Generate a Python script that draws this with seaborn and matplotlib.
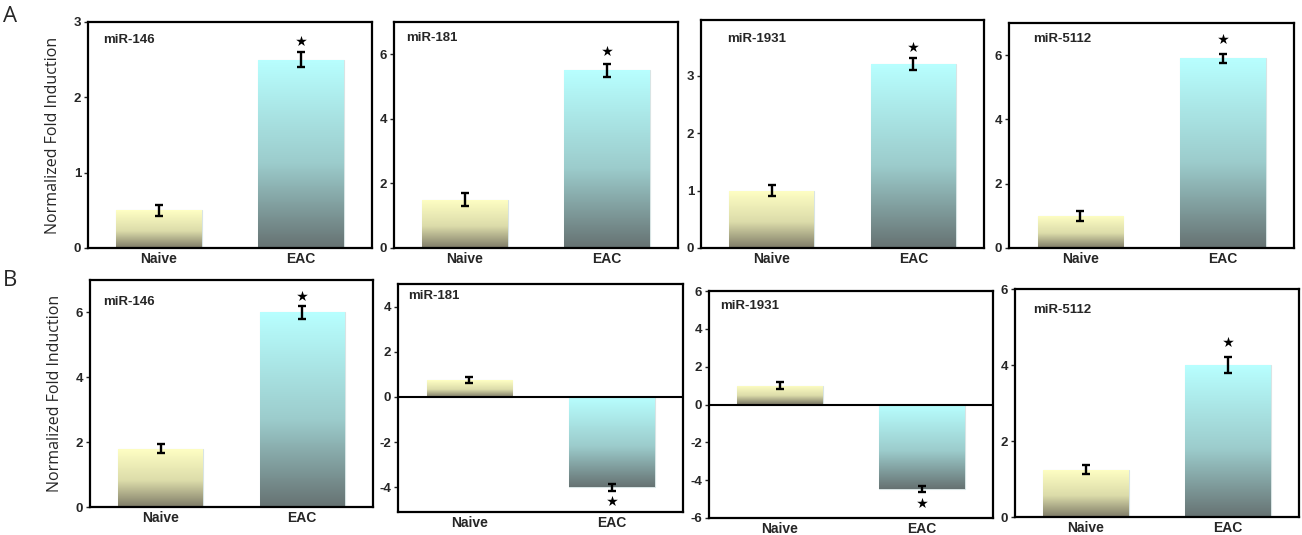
import numpy as np
import pandas as pd
import matplotlib
matplotlib.use('Agg')
import matplotlib.pyplot as plt
import seaborn as sns
from matplotlib.colors import LinearSegmentedColormap

groups = ['Naive', 'EAC']
mirs = ['miR-146', 'miR-181', 'miR-1931', 'miR-5112']

# panel A values
a_naive = [0.5, 1.5, 1.0, 1.0]
a_naive_err = [0.07, 0.2, 0.1, 0.15]
a_eac = [2.5, 5.5, 3.2, 5.9]
a_eac_err = [0.1, 0.2, 0.1, 0.15]
a_star = [2.75, 6.1, 3.5, 6.5]

# panel B values
b_naive = [1.8, 0.75, 1.0, 1.25]
b_naive_err = [0.15, 0.15, 0.2, 0.12]
b_eac = [6.0, -4.0, -4.45, 4.0]
b_eac_err = [0.2, 0.15, 0.15, 0.22]
b_star = [6.5, -4.6, -5.2, 4.6]

a_ylim = [(0, 3), (0, 7), (0, 3.97), (0, 7)]
a_ticks = [[0, 1, 2, 3], [0, 2, 4, 6], [0, 1, 2, 3], [0, 2, 4, 6]]
b_ylim = [(0, 7), (-5.1, 5), (-6, 6), (0, 6)]
b_ticks = [[0, 2, 4, 6], [-4, -2, 0, 2, 4], [-6, -4, -2, 0, 2, 4, 6], [0, 2, 4, 6]]

# axes boxes in pixels: left, right, top, bottom
W, H = 1302, 535
a_box = [(88, 372, 22, 248), (394, 678, 22, 248), (701, 984, 20, 248), (1009, 1294, 23, 248)]
b_box = [(90, 373, 280, 507), (398, 683, 284, 512), (709, 993, 291, 518), (1015, 1299, 289, 517)]
# title offset from the top-left corner (px)
a_title = [(15, 18), (12, 16), (26, 19), (24, 16)]
b_title = [(13, 22), (10, 12), (11, 15), (18, 21)]

sns.set_style('ticks')
plt.rcParams['font.family'] = ['Liberation Sans', 'DejaVu Sans']

naive_cmap = LinearSegmentedColormap.from_list(
    'naive', [(0, '#7f7c68'), (0.45, '#dcdcaa'), (1, '#ffffc4')])
eac_cmap = LinearSegmentedColormap.from_list(
    'eac', [(0, '#667272'), (0.45, '#9ccccc'), (1, '#b8ffff')])


def gradient_bars(ax, cmaps):
    grad = np.linspace(0, 1, 256).reshape(-1, 1)
    for patch, cm in zip(ax.patches, cmaps):
        x, y = patch.get_x(), patch.get_y()
        w, h = patch.get_width(), patch.get_height()
        y0, y1 = min(y, y + h), max(y, y + h)
        im = ax.imshow(grad, cmap=cm, origin='lower', aspect='auto',
                       extent=[x, x + w, y0, y1], zorder=1)
        im.set_clip_path(patch)
        patch.set_facecolor('none')
        patch.set_edgecolor('#d8e4e4')
        patch.set_linewidth(0.8)


fig = plt.figure(figsize=(W / 100, H / 100), dpi=100)


def panel(box, tpos, name, naive, naive_err, eac, eac_err, star, ylim, ticks, ylabel):
    l, r, t, b = box
    ax = fig.add_axes([l / W, (H - b) / H, (r - l) / W, (b - t) / H])
    df = pd.DataFrame({'group': groups, 'value': [naive, eac]})
    sns.barplot(data=df, x='group', y='value', ax=ax, width=0.6,
                color='white', errorbar=None)
    gradient_bars(ax, [naive_cmap, eac_cmap])
    ax.errorbar([0, 1], [naive, eac], yerr=[naive_err, eac_err], fmt='none',
                ecolor='black', elinewidth=1.7, capsize=3.2, capthick=1.7, zorder=3)
    ax.scatter([1], [star], marker='*', s=65, color='black', zorder=4, linewidths=0)
    if ylim[0] < 0:
        ax.axhline(0, color='black', lw=1.5, zorder=3)
    ax.set_xlim(-0.5, 1.5)
    ax.set_ylim(*ylim)
    ax.set_yticks(ticks)
    ax.set_yticklabels([str(v) for v in ticks], fontsize=9.5, fontweight='bold')
    ax.set_xticks([0, 1])
    ax.set_xticklabels(groups, fontsize=10, fontweight='bold')
    ax.tick_params(axis='x', length=0, pad=3)
    ax.tick_params(axis='y', length=3, width=1, pad=2)
    ax.set_xlabel('')
    ax.set_ylabel('')
    for s in ax.spines.values():
        s.set_visible(True)
        s.set_linewidth(1.6)
        s.set_color('black')
    ax.text(tpos[0] / (r - l), 1 - tpos[1] / (b - t), name, transform=ax.transAxes,
            fontsize=9.5, fontweight='bold', va='center', ha='left')
    if ylabel:
        ax.set_ylabel('Normalized Fold Induction', fontsize=11.5,
                      family=['Open Sans', 'DejaVu Sans'], labelpad=9)
    return ax


for i in range(4):
    panel(a_box[i], a_title[i], mirs[i], a_naive[i], a_naive_err[i], a_eac[i],
          a_eac_err[i], a_star[i], a_ylim[i], a_ticks[i], i == 0)
    panel(b_box[i], b_title[i], mirs[i], b_naive[i], b_naive_err[i], b_eac[i],
          b_eac_err[i], b_star[i], b_ylim[i], b_ticks[i], i == 0)

fig.text(3 / W, 1 - 6 / H, 'A', fontsize=16, va='top', ha='left',
         family=['Open Sans', 'DejaVu Sans'])
fig.text(3 / W, 1 - 270 / H, 'B', fontsize=16, va='top', ha='left',
         family=['Open Sans', 'DejaVu Sans'])

fig.savefig('out.png', dpi=100)
